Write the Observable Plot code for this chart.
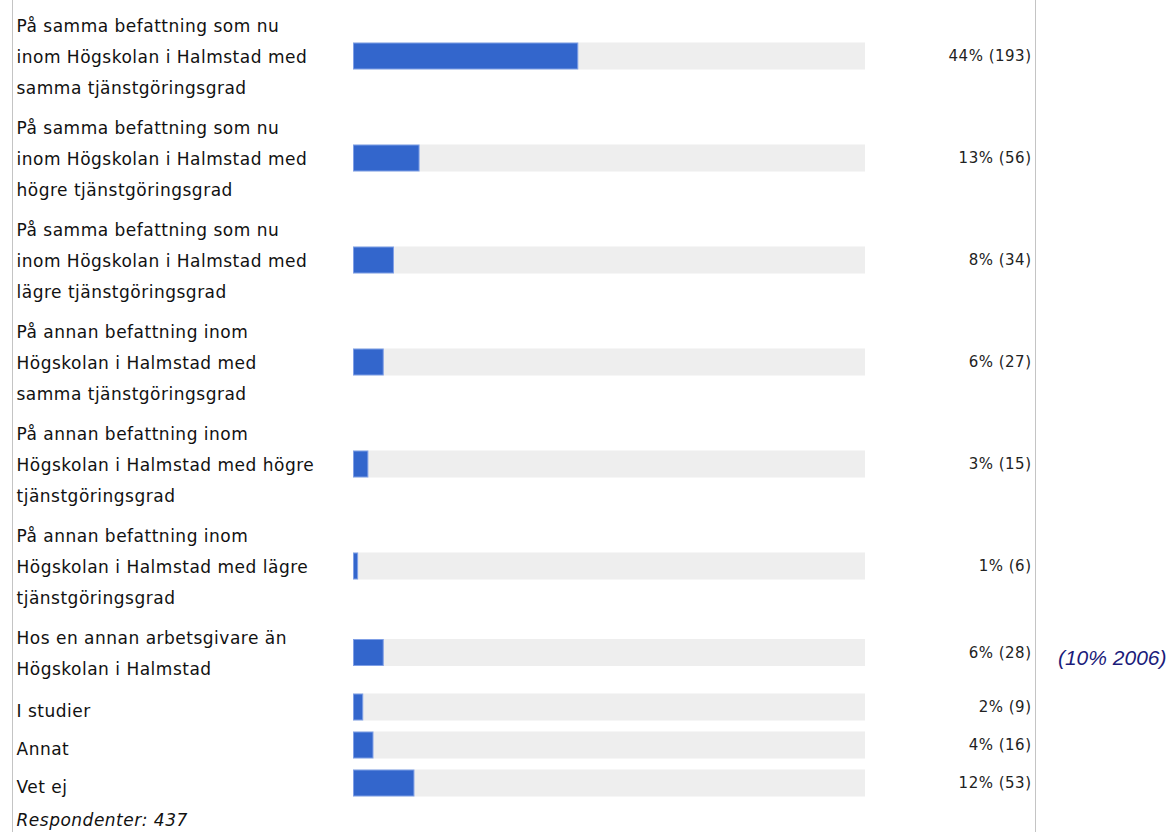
<!DOCTYPE html>
<html>
<head>
<meta charset="utf-8">
<script src="https://cdn.jsdelivr.net/npm/d3@7"></script>
<script src="https://cdn.jsdelivr.net/npm/@observablehq/plot@0.6"></script>
<style>
  body { margin: 0; background: #fff; }
  #wrap { position: relative; width: 1170px; height: 832px; overflow: hidden; }
  #frame { position: absolute; left: 12px; top: 0; width: 1024px; height: 832px; box-sizing: border-box;
           border-left: 1px solid #c4c4c4; border-right: 1px solid #c4c4c4; pointer-events: none; }
  #wrap svg { position: absolute; left: 0; top: 0; }
  #wrap svg g[font-family="DejaVu Sans"] { letter-spacing: 0.5px; }
</style>
</head>
<body>
<div id="wrap"><div id="frame"></div></div>
<script>
// ---- data ----
const labels = [
  "På samma befattning som nu\ninom Högskolan i Halmstad med\nsamma tjänstgöringsgrad",
  "På samma befattning som nu\ninom Högskolan i Halmstad med\nhögre tjänstgöringsgrad",
  "På samma befattning som nu\ninom Högskolan i Halmstad med\nlägre tjänstgöringsgrad",
  "På annan befattning inom\nHögskolan i Halmstad med\nsamma tjänstgöringsgrad",
  "På annan befattning inom\nHögskolan i Halmstad med högre\ntjänstgöringsgrad",
  "På annan befattning inom\nHögskolan i Halmstad med lägre\ntjänstgöringsgrad",
  "Hos en annan arbetsgivare än\nHögskolan i Halmstad",
  "I studier",
  "Annat",
  "Vet ej"
];
const percents = [44, 13, 8, 6, 3, 1, 6, 2, 4, 12];
const counts = [193, 56, 34, 27, 15, 6, 28, 9, 16, 53];
const notes = ["", "", "", "", "", "", "(10% 2006)", "", "", ""];
const respondents = 437;
const footerLabel = "Respondenter";

// ---- layout (derived from line counts) ----
const W = 1170, H = 832;
const lineH = 31;
const rowH = n => n * lineH + (n > 1 ? 9 : 7);
const barHalf = 13.5;
let cursor = 5;
const rows = labels.map((label, i) => {
  const lines = label.split("\n").length;
  const h = rowH(lines);
  const r = {label, lines, pct: percents[i], count: counts[i], note: notes[i], y: cursor + h / 2};
  cursor += h;
  return r;
});
const footer = [{text: `${footerLabel}: ${respondents}`, y: cursor + 18}];

const font = "DejaVu Sans";
const labelSize = 17;
const labelOpts = {text: "label", y: "y", frameAnchor: "left", dx: 16, textAnchor: "start",
  fontSize: labelSize, lineHeight: lineH / labelSize, fontFamily: font, fill: "#111"};
const chart = Plot.plot({
  width: W,
  height: H,
  margin: 0,
  x: {domain: [0, 100], range: [353, 865], axis: null},
  y: {domain: [0, H], range: [0, H], axis: null},
  marks: [
    Plot.rect(rows, {x1: 0, x2: 100, y1: d => d.y - barHalf, y2: d => d.y + barHalf, fill: "#eeeeee"}),
    Plot.rect(rows, {x1: 0, x2: "pct", y1: d => d.y - barHalf, y2: d => d.y + barHalf,
      fill: "#3366cc", stroke: "#7f9fe6", strokeWidth: 1, inset: 0.5}),
    Plot.text(rows.filter(d => d.lines > 1), {...labelOpts, dy: -3.5}),
    Plot.text(rows.filter(d => d.lines === 1), labelOpts),
    Plot.text(rows, {text: d => `${d.pct}% (${d.count})`, y: "y", frameAnchor: "right", dx: -139,
      textAnchor: "end", fontSize: 15, fontFamily: font, fill: "#222"}),
    Plot.text(rows.filter(d => d.note), {text: "note", y: "y", frameAnchor: "right", dx: -4, dy: 5,
      textAnchor: "end", fontSize: 21, fontStyle: "italic", fontFamily: "Liberation Sans", fill: "#1b1b7a"}),
    Plot.text(footer, {text: "text", y: "y", frameAnchor: "left", dx: 16, textAnchor: "start",
      fontSize: labelSize, fontStyle: "italic", fontFamily: font, fill: "#111"})
  ]
});
document.getElementById("wrap").prepend(chart);
</script>
</body>
</html>
